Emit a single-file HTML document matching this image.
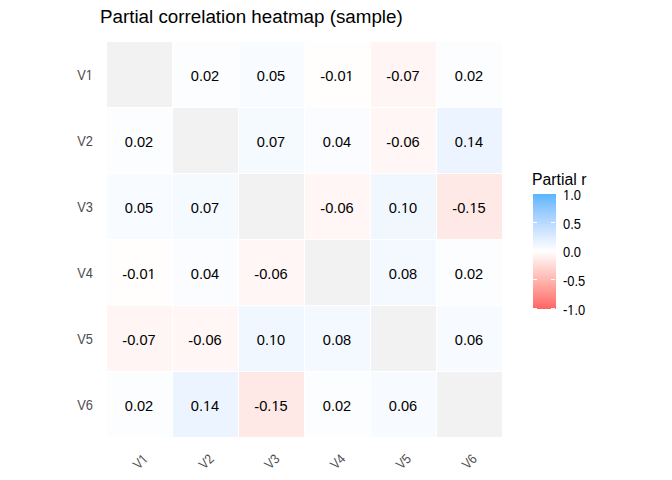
<!DOCTYPE html><html><head><meta charset="utf-8"><style>html,body{margin:0;padding:0;background:#fff;}body{width:672px;height:480px;overflow:hidden;}svg{display:block;font-family:"Liberation Sans",sans-serif;}</style></head><body>
<svg width="672" height="480" viewBox="0 0 672 480" shape-rendering="crispEdges">
<rect width="672" height="480" fill="#FFFFFF"/>
<text x="100" y="23" font-size="18.8" fill="#000">Partial correlation heatmap (sample)</text>
<rect x="107" y="42" width="65" height="65" fill="#F2F2F2"/>
<rect x="173" y="42" width="65" height="65" fill="#FCFDFF"/>
<rect x="239" y="42" width="65" height="65" fill="#F8FBFF"/>
<rect x="305" y="42" width="65" height="65" fill="#FFFEFD"/>
<rect x="371" y="42" width="65" height="65" fill="#FFF5F4"/>
<rect x="437" y="42" width="65" height="65" fill="#FCFDFF"/>
<rect x="107" y="108" width="65" height="65" fill="#FCFDFF"/>
<rect x="173" y="108" width="65" height="65" fill="#F2F2F2"/>
<rect x="239" y="108" width="65" height="65" fill="#F5FAFF"/>
<rect x="305" y="108" width="65" height="65" fill="#FAFCFF"/>
<rect x="371" y="108" width="65" height="65" fill="#FFF6F5"/>
<rect x="437" y="108" width="65" height="65" fill="#ECF4FF"/>
<rect x="107" y="174" width="65" height="65" fill="#F8FBFF"/>
<rect x="173" y="174" width="65" height="65" fill="#F5FAFF"/>
<rect x="239" y="174" width="65" height="65" fill="#F2F2F2"/>
<rect x="305" y="174" width="65" height="65" fill="#FFF6F5"/>
<rect x="371" y="174" width="65" height="65" fill="#F1F7FF"/>
<rect x="437" y="174" width="65" height="65" fill="#FFE9E7"/>
<rect x="107" y="240" width="65" height="65" fill="#FFFEFD"/>
<rect x="173" y="240" width="65" height="65" fill="#FAFCFF"/>
<rect x="239" y="240" width="65" height="65" fill="#FFF6F5"/>
<rect x="305" y="240" width="65" height="65" fill="#F2F2F2"/>
<rect x="371" y="240" width="65" height="65" fill="#F4F9FF"/>
<rect x="437" y="240" width="65" height="65" fill="#FCFDFF"/>
<rect x="107" y="306" width="65" height="65" fill="#FFF5F4"/>
<rect x="173" y="306" width="65" height="65" fill="#FFF6F5"/>
<rect x="239" y="306" width="65" height="65" fill="#F1F7FF"/>
<rect x="305" y="306" width="65" height="65" fill="#F4F9FF"/>
<rect x="371" y="306" width="65" height="65" fill="#F2F2F2"/>
<rect x="437" y="306" width="65" height="65" fill="#F7FAFF"/>
<rect x="107" y="372" width="65" height="65" fill="#FCFDFF"/>
<rect x="173" y="372" width="65" height="65" fill="#ECF4FF"/>
<rect x="239" y="372" width="65" height="65" fill="#FFE9E7"/>
<rect x="305" y="372" width="65" height="65" fill="#FCFDFF"/>
<rect x="371" y="372" width="65" height="65" fill="#F7FAFF"/>
<rect x="437" y="372" width="65" height="65" fill="#F2F2F2"/>
<text x="205.00" y="81.00" font-size="14.6" text-anchor="middle" fill="#000">0.02</text>
<text x="271.00" y="81.00" font-size="14.6" text-anchor="middle" fill="#000">0.05</text>
<text x="337.00" y="81.00" font-size="14.6" text-anchor="middle" fill="#000"><tspan dy="1">-</tspan><tspan dy="-1">0.01</tspan></text>
<rect x="345.93" y="80.00" width="7.69" height="1.30" fill="#FFFEFD" shape-rendering="geometricPrecision"/>
<rect x="349.19" y="80.00" width="1.29" height="1.00" fill="#000" shape-rendering="geometricPrecision"/>
<text x="403.00" y="81.00" font-size="14.6" text-anchor="middle" fill="#000"><tspan dy="1">-</tspan><tspan dy="-1">0.07</tspan></text>
<text x="469.00" y="81.00" font-size="14.6" text-anchor="middle" fill="#000">0.02</text>
<text x="139.00" y="147.00" font-size="14.6" text-anchor="middle" fill="#000">0.02</text>
<text x="271.00" y="147.00" font-size="14.6" text-anchor="middle" fill="#000">0.07</text>
<text x="337.00" y="147.00" font-size="14.6" text-anchor="middle" fill="#000">0.04</text>
<text x="403.00" y="147.00" font-size="14.6" text-anchor="middle" fill="#000"><tspan dy="1">-</tspan><tspan dy="-1">0.06</tspan></text>
<text x="469.00" y="147.00" font-size="14.6" text-anchor="middle" fill="#000">0.14</text>
<rect x="467.38" y="146.00" width="7.69" height="1.30" fill="#ECF4FF" shape-rendering="geometricPrecision"/>
<rect x="470.64" y="146.00" width="1.29" height="1.00" fill="#000" shape-rendering="geometricPrecision"/>
<text x="139.00" y="213.00" font-size="14.6" text-anchor="middle" fill="#000">0.05</text>
<text x="205.00" y="213.00" font-size="14.6" text-anchor="middle" fill="#000">0.07</text>
<text x="337.00" y="213.00" font-size="14.6" text-anchor="middle" fill="#000"><tspan dy="1">-</tspan><tspan dy="-1">0.06</tspan></text>
<text x="403.00" y="213.00" font-size="14.6" text-anchor="middle" fill="#000">0.10</text>
<rect x="401.38" y="212.00" width="7.69" height="1.30" fill="#F1F7FF" shape-rendering="geometricPrecision"/>
<rect x="404.64" y="212.00" width="1.29" height="1.00" fill="#000" shape-rendering="geometricPrecision"/>
<text x="469.00" y="213.00" font-size="14.6" text-anchor="middle" fill="#000"><tspan dy="1">-</tspan><tspan dy="-1">0.15</tspan></text>
<rect x="469.81" y="212.00" width="7.69" height="1.30" fill="#FFE9E7" shape-rendering="geometricPrecision"/>
<rect x="473.07" y="212.00" width="1.29" height="1.00" fill="#000" shape-rendering="geometricPrecision"/>
<text x="139.00" y="279.00" font-size="14.6" text-anchor="middle" fill="#000"><tspan dy="1">-</tspan><tspan dy="-1">0.01</tspan></text>
<rect x="147.93" y="278.00" width="7.69" height="1.30" fill="#FFFEFD" shape-rendering="geometricPrecision"/>
<rect x="151.19" y="278.00" width="1.29" height="1.00" fill="#000" shape-rendering="geometricPrecision"/>
<text x="205.00" y="279.00" font-size="14.6" text-anchor="middle" fill="#000">0.04</text>
<text x="271.00" y="279.00" font-size="14.6" text-anchor="middle" fill="#000"><tspan dy="1">-</tspan><tspan dy="-1">0.06</tspan></text>
<text x="403.00" y="279.00" font-size="14.6" text-anchor="middle" fill="#000">0.08</text>
<text x="469.00" y="279.00" font-size="14.6" text-anchor="middle" fill="#000">0.02</text>
<text x="139.00" y="345.00" font-size="14.6" text-anchor="middle" fill="#000"><tspan dy="1">-</tspan><tspan dy="-1">0.07</tspan></text>
<text x="205.00" y="345.00" font-size="14.6" text-anchor="middle" fill="#000"><tspan dy="1">-</tspan><tspan dy="-1">0.06</tspan></text>
<text x="271.00" y="345.00" font-size="14.6" text-anchor="middle" fill="#000">0.10</text>
<rect x="269.38" y="344.00" width="7.69" height="1.30" fill="#F1F7FF" shape-rendering="geometricPrecision"/>
<rect x="272.64" y="344.00" width="1.29" height="1.00" fill="#000" shape-rendering="geometricPrecision"/>
<text x="337.00" y="345.00" font-size="14.6" text-anchor="middle" fill="#000">0.08</text>
<text x="469.00" y="345.00" font-size="14.6" text-anchor="middle" fill="#000">0.06</text>
<text x="139.00" y="411.00" font-size="14.6" text-anchor="middle" fill="#000">0.02</text>
<text x="205.00" y="411.00" font-size="14.6" text-anchor="middle" fill="#000">0.14</text>
<rect x="203.38" y="410.00" width="7.69" height="1.30" fill="#ECF4FF" shape-rendering="geometricPrecision"/>
<rect x="206.64" y="410.00" width="1.29" height="1.00" fill="#000" shape-rendering="geometricPrecision"/>
<text x="271.00" y="411.00" font-size="14.6" text-anchor="middle" fill="#000"><tspan dy="1">-</tspan><tspan dy="-1">0.15</tspan></text>
<rect x="271.81" y="410.00" width="7.69" height="1.30" fill="#FFE9E7" shape-rendering="geometricPrecision"/>
<rect x="275.07" y="410.00" width="1.29" height="1.00" fill="#000" shape-rendering="geometricPrecision"/>
<text x="337.00" y="411.00" font-size="14.6" text-anchor="middle" fill="#000">0.02</text>
<text x="403.00" y="411.00" font-size="14.6" text-anchor="middle" fill="#000">0.06</text>
<text x="92.9" y="80.00" font-size="13.9" textLength="15.656" lengthAdjust="spacingAndGlyphs" text-anchor="end" fill="#4D4D4D">V1</text>
<rect x="86.06" y="79.00" width="6.92" height="1.30" fill="#FFFFFF" shape-rendering="geometricPrecision"/>
<rect x="89.00" y="79.00" width="1.13" height="1.00" fill="#4D4D4D" shape-rendering="geometricPrecision"/>
<text x="92.9" y="146.00" font-size="13.9" textLength="15.656" lengthAdjust="spacingAndGlyphs" text-anchor="end" fill="#4D4D4D">V2</text>
<text x="92.9" y="212.00" font-size="13.9" textLength="15.656" lengthAdjust="spacingAndGlyphs" text-anchor="end" fill="#4D4D4D">V3</text>
<text x="92.9" y="278.00" font-size="13.9" textLength="15.656" lengthAdjust="spacingAndGlyphs" text-anchor="end" fill="#4D4D4D">V4</text>
<text x="92.9" y="344.00" font-size="13.9" textLength="15.656" lengthAdjust="spacingAndGlyphs" text-anchor="end" fill="#4D4D4D">V5</text>
<text x="92.9" y="410.00" font-size="13.9" textLength="15.656" lengthAdjust="spacingAndGlyphs" text-anchor="end" fill="#4D4D4D">V6</text>
<g transform="translate(148.80,459.7) rotate(-45)"><text font-size="13.6" textLength="14.678" lengthAdjust="spacingAndGlyphs" text-anchor="end" fill="#4D4D4D">V1</text><rect x="-6.46" y="-1.15" width="6.57" height="1.45" fill="#FFFFFF" shape-rendering="geometricPrecision"/><rect x="-3.66" y="-1.15" width="1.06" height="1.15" fill="#4D4D4D" shape-rendering="geometricPrecision"/></g>
<g transform="translate(214.60,459.7) rotate(-45)"><text font-size="13.6" textLength="14.678" lengthAdjust="spacingAndGlyphs" text-anchor="end" fill="#4D4D4D">V2</text></g>
<g transform="translate(280.40,459.7) rotate(-45)"><text font-size="13.6" textLength="14.678" lengthAdjust="spacingAndGlyphs" text-anchor="end" fill="#4D4D4D">V3</text></g>
<g transform="translate(346.20,459.7) rotate(-45)"><text font-size="13.6" textLength="14.678" lengthAdjust="spacingAndGlyphs" text-anchor="end" fill="#4D4D4D">V4</text></g>
<g transform="translate(412.00,459.7) rotate(-45)"><text font-size="13.6" textLength="14.678" lengthAdjust="spacingAndGlyphs" text-anchor="end" fill="#4D4D4D">V5</text></g>
<g transform="translate(477.80,459.7) rotate(-45)"><text font-size="13.6" textLength="14.678" lengthAdjust="spacingAndGlyphs" text-anchor="end" fill="#4D4D4D">V6</text></g>
<text x="532" y="184.5" font-size="15.8" fill="#000">Partial r</text>
<rect x="533" y="194" width="23" height="1" fill="#5AB6FF"/>
<rect x="533" y="195" width="23" height="1" fill="#5FB7FF"/>
<rect x="533" y="196" width="23" height="1" fill="#63B8FF"/>
<rect x="533" y="197" width="23" height="1" fill="#67B9FF"/>
<rect x="533" y="198" width="23" height="1" fill="#6BBBFF"/>
<rect x="533" y="199" width="23" height="1" fill="#6FBCFF"/>
<rect x="533" y="200" width="23" height="1" fill="#73BDFF"/>
<rect x="533" y="201" width="23" height="1" fill="#77BEFF"/>
<rect x="533" y="202" width="23" height="1" fill="#7AC0FF"/>
<rect x="533" y="203" width="23" height="1" fill="#7EC1FF"/>
<rect x="533" y="204" width="23" height="1" fill="#81C2FF"/>
<rect x="533" y="205" width="23" height="1" fill="#85C3FF"/>
<rect x="533" y="206" width="23" height="1" fill="#88C5FF"/>
<rect x="533" y="207" width="23" height="1" fill="#8BC6FF"/>
<rect x="533" y="208" width="23" height="1" fill="#8FC7FF"/>
<rect x="533" y="209" width="23" height="1" fill="#92C8FF"/>
<rect x="533" y="210" width="23" height="1" fill="#95CAFF"/>
<rect x="533" y="211" width="23" height="1" fill="#98CBFF"/>
<rect x="533" y="212" width="23" height="1" fill="#9BCCFF"/>
<rect x="533" y="213" width="23" height="1" fill="#9ECDFF"/>
<rect x="533" y="214" width="23" height="1" fill="#A1CFFF"/>
<rect x="533" y="215" width="23" height="1" fill="#A4D0FF"/>
<rect x="533" y="216" width="23" height="1" fill="#A6D1FF"/>
<rect x="533" y="217" width="23" height="1" fill="#A9D3FF"/>
<rect x="533" y="218" width="23" height="1" fill="#ACD4FF"/>
<rect x="533" y="219" width="23" height="1" fill="#AFD5FF"/>
<rect x="533" y="220" width="23" height="1" fill="#B2D6FF"/>
<rect x="533" y="221" width="23" height="1" fill="#B4D8FF"/>
<rect x="533" y="222" width="23" height="1" fill="#B7D9FF"/>
<rect x="533" y="223" width="23" height="1" fill="#BADAFF"/>
<rect x="533" y="224" width="23" height="1" fill="#BDDCFF"/>
<rect x="533" y="225" width="23" height="1" fill="#BFDDFF"/>
<rect x="533" y="226" width="23" height="1" fill="#C2DEFF"/>
<rect x="533" y="227" width="23" height="1" fill="#C4E0FF"/>
<rect x="533" y="228" width="23" height="1" fill="#C7E1FF"/>
<rect x="533" y="229" width="23" height="1" fill="#CAE2FF"/>
<rect x="533" y="230" width="23" height="1" fill="#CCE3FF"/>
<rect x="533" y="231" width="23" height="1" fill="#CFE5FF"/>
<rect x="533" y="232" width="23" height="1" fill="#D1E6FF"/>
<rect x="533" y="233" width="23" height="1" fill="#D4E7FF"/>
<rect x="533" y="234" width="23" height="1" fill="#D6E9FF"/>
<rect x="533" y="235" width="23" height="1" fill="#D9EAFF"/>
<rect x="533" y="236" width="23" height="1" fill="#DBEBFF"/>
<rect x="533" y="237" width="23" height="1" fill="#DEEDFF"/>
<rect x="533" y="238" width="23" height="1" fill="#E0EEFF"/>
<rect x="533" y="239" width="23" height="1" fill="#E3EFFF"/>
<rect x="533" y="240" width="23" height="1" fill="#E5F1FF"/>
<rect x="533" y="241" width="23" height="1" fill="#E8F2FF"/>
<rect x="533" y="242" width="23" height="1" fill="#EAF3FF"/>
<rect x="533" y="243" width="23" height="1" fill="#ECF5FF"/>
<rect x="533" y="244" width="23" height="1" fill="#EFF6FF"/>
<rect x="533" y="245" width="23" height="1" fill="#F1F7FF"/>
<rect x="533" y="246" width="23" height="1" fill="#F4F9FF"/>
<rect x="533" y="247" width="23" height="1" fill="#F6FAFF"/>
<rect x="533" y="248" width="23" height="1" fill="#F8FBFF"/>
<rect x="533" y="249" width="23" height="1" fill="#FBFDFF"/>
<rect x="533" y="250" width="23" height="1" fill="#FDFEFF"/>
<rect x="533" y="251" width="23" height="1" fill="#FFFEFE"/>
<rect x="533" y="252" width="23" height="1" fill="#FFFCFB"/>
<rect x="533" y="253" width="23" height="1" fill="#FFF9F9"/>
<rect x="533" y="254" width="23" height="1" fill="#FFF7F6"/>
<rect x="533" y="255" width="23" height="1" fill="#FFF4F3"/>
<rect x="533" y="256" width="23" height="1" fill="#FFF2F0"/>
<rect x="533" y="257" width="23" height="1" fill="#FFEFED"/>
<rect x="533" y="258" width="23" height="1" fill="#FFEDEA"/>
<rect x="533" y="259" width="23" height="1" fill="#FFEAE8"/>
<rect x="533" y="260" width="23" height="1" fill="#FFE7E5"/>
<rect x="533" y="261" width="23" height="1" fill="#FFE5E2"/>
<rect x="533" y="262" width="23" height="1" fill="#FFE2DF"/>
<rect x="533" y="263" width="23" height="1" fill="#FFE0DC"/>
<rect x="533" y="264" width="23" height="1" fill="#FFDDDA"/>
<rect x="533" y="265" width="23" height="1" fill="#FFDBD7"/>
<rect x="533" y="266" width="23" height="1" fill="#FFD8D4"/>
<rect x="533" y="267" width="23" height="1" fill="#FFD6D1"/>
<rect x="533" y="268" width="23" height="1" fill="#FFD3CE"/>
<rect x="533" y="269" width="23" height="1" fill="#FFD1CC"/>
<rect x="533" y="270" width="23" height="1" fill="#FFCEC9"/>
<rect x="533" y="271" width="23" height="1" fill="#FFCBC6"/>
<rect x="533" y="272" width="23" height="1" fill="#FFC9C4"/>
<rect x="533" y="273" width="23" height="1" fill="#FFC6C1"/>
<rect x="533" y="274" width="23" height="1" fill="#FFC4BE"/>
<rect x="533" y="275" width="23" height="1" fill="#FFC1BB"/>
<rect x="533" y="276" width="23" height="1" fill="#FFBFB9"/>
<rect x="533" y="277" width="23" height="1" fill="#FFBCB6"/>
<rect x="533" y="278" width="23" height="1" fill="#FFB9B3"/>
<rect x="533" y="279" width="23" height="1" fill="#FFB7B1"/>
<rect x="533" y="280" width="23" height="1" fill="#FFB4AE"/>
<rect x="533" y="281" width="23" height="1" fill="#FFB1AB"/>
<rect x="533" y="282" width="23" height="1" fill="#FFAFA9"/>
<rect x="533" y="283" width="23" height="1" fill="#FFACA6"/>
<rect x="533" y="284" width="23" height="1" fill="#FFAAA3"/>
<rect x="533" y="285" width="23" height="1" fill="#FFA7A1"/>
<rect x="533" y="286" width="23" height="1" fill="#FFA49E"/>
<rect x="533" y="287" width="23" height="1" fill="#FFA29B"/>
<rect x="533" y="288" width="23" height="1" fill="#FF9F99"/>
<rect x="533" y="289" width="23" height="1" fill="#FF9C96"/>
<rect x="533" y="290" width="23" height="1" fill="#FF9A93"/>
<rect x="533" y="291" width="23" height="1" fill="#FF9791"/>
<rect x="533" y="292" width="23" height="1" fill="#FF948E"/>
<rect x="533" y="293" width="23" height="1" fill="#FF918C"/>
<rect x="533" y="294" width="23" height="1" fill="#FF8F89"/>
<rect x="533" y="295" width="23" height="1" fill="#FF8C87"/>
<rect x="533" y="296" width="23" height="1" fill="#FF8984"/>
<rect x="533" y="297" width="23" height="1" fill="#FF8681"/>
<rect x="533" y="298" width="23" height="1" fill="#FF847F"/>
<rect x="533" y="299" width="23" height="1" fill="#FF817C"/>
<rect x="533" y="300" width="23" height="1" fill="#FF7E7A"/>
<rect x="533" y="301" width="23" height="1" fill="#FF7B77"/>
<rect x="533" y="302" width="23" height="1" fill="#FF7875"/>
<rect x="533" y="303" width="23" height="1" fill="#FF7572"/>
<rect x="533" y="304" width="23" height="1" fill="#FF7270"/>
<rect x="533" y="305" width="23" height="1" fill="#FF6F6D"/>
<rect x="533" y="306" width="23" height="1" fill="#FF6C6B"/>
<rect x="533" y="307" width="23" height="1" fill="#FF6968"/>
<rect x="533" y="308" width="23" height="1" fill="#FF6666"/>
<line x1="533" x2="537" y1="193.50" y2="193.50" stroke="#FFFFFF" stroke-width="1"/>
<line x1="551" x2="555" y1="193.50" y2="193.50" stroke="#FFFFFF" stroke-width="1"/>
<text x="563" y="200" font-size="13.9" textLength="17.933" lengthAdjust="spacingAndGlyphs" fill="#000">1.0</text>
<rect x="563.28" y="199.00" width="6.96" height="1.30" fill="#FFFFFF" shape-rendering="geometricPrecision"/>
<rect x="566.24" y="199.00" width="1.14" height="1.00" fill="#000" shape-rendering="geometricPrecision"/>
<line x1="533" x2="537" y1="222.50" y2="222.50" stroke="#FFFFFF" stroke-width="1"/>
<line x1="551" x2="555" y1="222.50" y2="222.50" stroke="#FFFFFF" stroke-width="1"/>
<text x="563" y="229" font-size="13.9" textLength="17.933" lengthAdjust="spacingAndGlyphs" fill="#000">0.5</text>
<line x1="533" x2="537" y1="250.50" y2="250.50" stroke="#FFFFFF" stroke-width="1"/>
<line x1="551" x2="555" y1="250.50" y2="250.50" stroke="#FFFFFF" stroke-width="1"/>
<text x="563" y="257" font-size="13.9" textLength="17.933" lengthAdjust="spacingAndGlyphs" fill="#000">0.0</text>
<line x1="533" x2="537" y1="279.50" y2="279.50" stroke="#FFFFFF" stroke-width="1"/>
<line x1="551" x2="555" y1="279.50" y2="279.50" stroke="#FFFFFF" stroke-width="1"/>
<text x="563" y="286" font-size="13.9" textLength="22.229" lengthAdjust="spacingAndGlyphs" fill="#000">-0.5</text>
<line x1="533" x2="537" y1="308.50" y2="308.50" stroke="#FFFFFF" stroke-width="1"/>
<line x1="551" x2="555" y1="308.50" y2="308.50" stroke="#FFFFFF" stroke-width="1"/>
<text x="563" y="315" font-size="13.9" textLength="22.229" lengthAdjust="spacingAndGlyphs" fill="#000">-1.0</text>
<rect x="567.58" y="314.00" width="6.96" height="1.30" fill="#FFFFFF" shape-rendering="geometricPrecision"/>
<rect x="570.54" y="314.00" width="1.14" height="1.00" fill="#000" shape-rendering="geometricPrecision"/>
</svg></body></html>
